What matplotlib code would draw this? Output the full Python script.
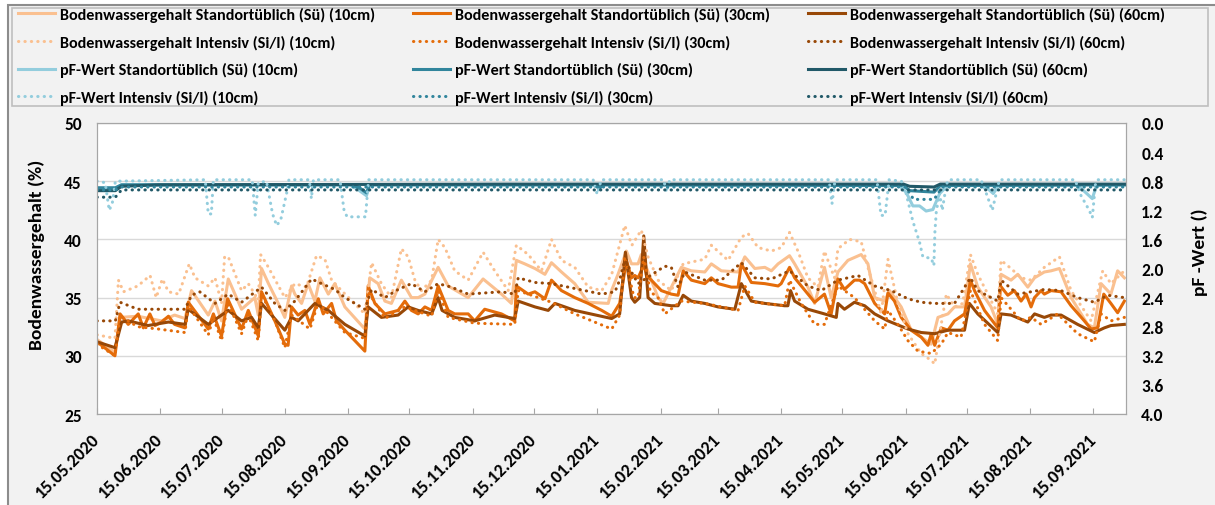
import numpy as np
import pandas as pd
import matplotlib
matplotlib.use('Agg')
import matplotlib.pyplot as plt
from matplotlib import font_manager
from matplotlib.patches import Rectangle

# === Daten: (Tage seit 15.05.2020, Wert) ===
start = pd.Timestamp('2020-05-15')

# Bodenwassergehalt (%) - Standortüblich (Sü)
sue10 = [(0, 31.4), (8.8, 30.3), (11.3, 33.3), (20, 33.4), (31.6, 33.0), (38, 33.5), (43.1, 33.2), (46.3, 35.6),
         (54.5, 33.5), (57.8, 34.7), (61, 33.0), (64.3, 36.6), (70.8, 34.0), (77.3, 35.0), (79, 33.5), (80.6, 37.5),
         (84, 36.2), (88.8, 34.5), (92, 33.3), (95.3, 36.0), (96.9, 35.3), (100.2, 34.5), (103.4, 36.2), (106.7, 34.7),
         (109.2, 36.7), (113.3, 35.3), (116.5, 36.2), (121.4, 34.2), (131.2, 32.3), (133.6, 36.7), (137.7, 36.2),
         (141, 34.7), (144.2, 34.5), (149.1, 36.5), (154, 35.0), (157.3, 35.0), (160.6, 35.3), (167.1, 37.6),
         (172, 36.0), (181.8, 35.0), (189.1, 36.6), (198.1, 35.3), (203, 34.5), (205.4, 38.2), (209.5, 37.9),
         (214.5, 37.5), (219.4, 37.0), (222.6, 38.0), (227.5, 37.2), (234, 36.2), (240.6, 34.6), (250.4, 34.5),
         (252, 35.6), (255.2, 37.0), (259.3, 39.0), (261.8, 37.9), (265, 37.9), (266.6, 38.7), (271.5, 36.5),
         (274.8, 35.0), (277.3, 34.5), (286.2, 37.6), (291.1, 37.3), (297.7, 37.2), (300.9, 37.9), (305.8, 37.3),
         (314, 37.2), (317.3, 38.5), (322.2, 37.5), (327.1, 37.6), (330.3, 37.3), (333.6, 37.9), (339.2, 38.6),
         (341.7, 37.9), (348.2, 35.9), (351.5, 34.5), (356.3, 37.6), (359.6, 35.0), (362.9, 37.2), (367.8, 38.2),
         (374.3, 38.7), (377.6, 37.9), (380.9, 35.0), (385.8, 34.7), (388.2, 35.6), (393.9, 34.2), (398.8, 32.2),
         (403.7, 31.6), (408.6, 31.0), (411.9, 33.3), (416.8, 33.6), (420, 34.2), (424.9, 34.2), (427.8, 37.9),
         (431.4, 35.9), (437.9, 34.2), (441.2, 32.7), (442.8, 37.0), (447.7, 36.5), (451, 37.0), (455.9, 35.9),
         (459.2, 36.7), (464, 37.2), (467.3, 37.3), (471.4, 37.5), (477.1, 35.0), (485.2, 32.7), (488.5, 32.4),
         (491.8, 36.2), (496.6, 35.3), (499.9, 37.3), (503.2, 36.7)]
sue30 = [(0, 31.2), (8.8, 30.0), (11.3, 33.6), (15.3, 32.7), (20.2, 33.6), (22.7, 32.4), (25.9, 33.6), (28.4, 32.6),
         (31.6, 32.9), (35, 33.4), (38, 32.7), (43.1, 32.4), (44.7, 34.6), (54.5, 32.3), (57, 33.6), (61, 31.7),
         (64, 34.9), (70.8, 32.3), (74.1, 33.9), (79, 31.7), (80.6, 35.5), (87.1, 33.0), (92, 31.0), (93.6, 30.9),
         (95.3, 34.2), (98.5, 33.5), (101.8, 33.9), (104.3, 32.7), (108.4, 34.9), (110.8, 33.6), (114.9, 34.5),
         (117.3, 33.0), (121.4, 32.2), (131.2, 30.4), (132.8, 36.0), (136.1, 34.5), (141, 33.6), (147.5, 33.9),
         (150.8, 34.7), (154, 33.9), (157.3, 33.6), (160.6, 34.2), (163.9, 33.9), (167.1, 36.0), (172, 33.9),
         (175.2, 33.6), (181.8, 33.6), (185, 33.0), (189.9, 34.0), (198.1, 33.6), (201.4, 33.3), (204.6, 33.0),
         (205.4, 36.0), (207.9, 35.7), (211.2, 35.3), (214.5, 35.5), (219.4, 34.9), (222.6, 36.5), (227.5, 35.6),
         (234, 35.0), (240.6, 34.5), (247.2, 33.9), (252.1, 33.4), (256, 34.5), (259.3, 38.2), (261.8, 36.7),
         (263.4, 36.9), (265, 36.7), (266.6, 37.3), (267.8, 38.0), (269.1, 36.9), (271.5, 36.5), (276.4, 35.6),
         (281.3, 35.3), (284.6, 35.2), (287.1, 37.3), (291.1, 36.5), (297.7, 36.2), (300.9, 36.7), (304.2, 36.2),
         (310.7, 35.9), (314, 35.9), (315.6, 37.9), (320.5, 36.3), (327.1, 36.2), (333.6, 36.0), (335.1, 36.2),
         (339.2, 37.6), (341.7, 36.7), (348.2, 35.3), (351.5, 34.6), (356.3, 35.3), (359.6, 33.6), (362.9, 36.6),
         (366.1, 35.7), (371, 36.5), (373.5, 36.5), (376, 36.2), (380.9, 34.5), (385.8, 33.6), (387.4, 35.4),
         (390.6, 34.7), (393.9, 33.3), (398.8, 32.2), (403.7, 31.6), (407, 30.9), (408.6, 31.9), (410.3, 30.9),
         (413.5, 32.4), (416.8, 32.2), (420, 33.0), (424.9, 33.6), (426.5, 35.0), (427.8, 36.5), (429.8, 35.6),
         (434.7, 33.9), (441.2, 32.4), (442.5, 36.0), (446.1, 35.2), (449.3, 35.6), (452.6, 34.7), (455.1, 35.3),
         (457.5, 34.2), (459.2, 35.0), (462.4, 35.6), (464, 35.3), (467.3, 35.6), (472.2, 35.5), (477.1, 34.3),
         (483.6, 33.0), (486.9, 32.3), (490.1, 32.4), (493.1, 35.3), (496.6, 34.5), (499.9, 33.7), (503.2, 34.7)]
sue60 = [(0, 31.2), (8.8, 30.7), (12.1, 32.9), (15.3, 33.0), (25, 32.6), (35, 32.9), (43.1, 32.7), (44.7, 34.0),
         (54.5, 32.7), (64.3, 33.9), (70.8, 33.0), (75.7, 33.3), (79, 32.4), (80.6, 34.5), (84, 33.8), (92, 32.2),
         (95.3, 33.3), (98.5, 33.0), (106.7, 34.5), (113.3, 33.9), (121.4, 32.7), (131.2, 31.7), (132.8, 34.2),
         (139.3, 33.3), (147.5, 33.5), (152.4, 34.2), (157.3, 33.9), (163.9, 33.6), (167.1, 35.0), (169, 33.9),
         (175.2, 33.3), (185, 33.0), (194.8, 33.5), (204.6, 33.2), (206.3, 34.7), (214.5, 34.2), (221, 33.9),
         (224.3, 34.5), (234, 33.9), (252.1, 33.2), (256, 33.6), (258.8, 38.9), (261.8, 35.0), (263.4, 34.6),
         (265.8, 35.0), (267.8, 40.3), (269.9, 35.0), (273.2, 34.5), (281.3, 34.3), (284.6, 34.3), (287.1, 35.2),
         (291.1, 34.7), (297.7, 34.5), (304.2, 34.2), (312.4, 34.0), (315.6, 36.2), (320.5, 34.7), (327.1, 34.5),
         (336.8, 34.3), (338.4, 34.3), (339.7, 35.6), (341.7, 34.7), (348.2, 34.0), (356.3, 33.6), (362.1, 33.3),
         (362.9, 34.5), (366.1, 34.0), (371, 34.6), (376, 34.3), (380.9, 33.6), (387.4, 33.0), (397.2, 32.3),
         (403.7, 32.0), (410.3, 31.9), (416.8, 32.2), (424.9, 32.2), (427.3, 34.5), (431.4, 33.6), (441.2, 32.0),
         (442.8, 33.6), (447.7, 33.5), (455.9, 32.9), (459.2, 33.6), (464, 33.3), (467.3, 33.5), (472.2, 33.5),
         (480.3, 32.7), (488.5, 32.0), (493.4, 32.4), (496.6, 32.6), (503.2, 32.7)]

# Bodenwassergehalt (%) - Intensiv (Si/I)
int10 = [(0, 31.8), (8.8, 31.5), (10.5, 36.5), (13, 35.5), (20, 36.0), (26, 36.9), (29, 35.0), (32, 36.6), (35, 35.5),
         (40, 35.3), (45.2, 37.9), (48, 36.7), (54.5, 36.0), (57.8, 36.7), (61, 34.5), (62.5, 38.5), (64.3, 38.5),
         (70.8, 35.6), (74.1, 36.2), (79, 34.8), (80.1, 38.7), (83, 37.9), (92, 35.0), (96.9, 36.2), (102.6, 35.9),
         (107.5, 38.6), (111.6, 38.3), (114.9, 36.5), (119.8, 35.6), (131.2, 33.6), (134.5, 38.0), (139.3, 36.2),
         (144.2, 35.0), (149.1, 39.2), (152.4, 38.5), (155.7, 36.5), (158.9, 35.6), (163.9, 36.5), (167.1, 40.0),
         (170.4, 39.3), (175.2, 37.3), (181.8, 36.5), (189.1, 38.9), (194.8, 37.3), (201.4, 35.6), (205.4, 39.5),
         (211.2, 38.7), (217.7, 37.3), (222.6, 40.0), (227.5, 38.2), (234, 37.6), (240.6, 35.9), (247.2, 35.6),
         (252.1, 37.0), (258.5, 41.2), (262, 39.5), (266.6, 40.8), (269.9, 38.5), (274.8, 36.5), (281.3, 35.6),
         (287.1, 37.9), (297.7, 38.3), (300.9, 39.5), (309.1, 38.2), (315.6, 40.2), (318.9, 40.5), (323.8, 39.3),
         (330.3, 39.0), (335.2, 39.3), (339.2, 40.6), (343.3, 39.0), (348.2, 36.7), (353.1, 35.9), (356.3, 39.0),
         (361.2, 36.7), (362.9, 39.2), (368.6, 40.0), (374.3, 39.8), (377.6, 37.6), (380.9, 35.6), (384.1, 33.6),
         (387.4, 38.3), (392.3, 34.5), (397.2, 31.9), (403.7, 30.2), (408.6, 29.6), (410.3, 29.3), (413.5, 32.7),
         (416, 35.3), (420, 34.2), (424, 34.5), (427.8, 38.7), (431.4, 37.0), (441.2, 33.6), (442.8, 38.2),
         (447.7, 37.5), (452.6, 36.7), (457.5, 36.5), (464, 37.6), (471.4, 38.5), (477.1, 35.6), (486.9, 33.0),
         (492.6, 37.3), (496.6, 36.2), (503.2, 37.3)]
int30 = [(0, 31.0), (8.8, 30.0), (11.3, 33.4), (20, 32.5), (30, 32.3), (43.1, 32.0), (44.7, 34.3), (54.5, 31.8),
         (57, 33.3), (61, 31.3), (64, 34.6), (70.8, 31.9), (74.1, 33.5), (79, 31.3), (80.6, 35.3), (87.1, 33.0),
         (92, 30.7), (95.3, 33.5), (104.3, 32.3), (108.4, 34.6), (121.4, 32.0), (131.2, 31.5), (132.8, 35.5),
         (141, 33.2), (150.8, 34.2), (163.9, 33.4), (167.1, 35.6), (172, 33.3), (185, 32.8), (204.6, 32.7),
         (206.3, 35.6), (222.6, 34.6), (234, 33.6), (252.1, 32.3), (256, 33.5), (258.5, 38.5), (263, 35.0),
         (265, 35.0), (267.8, 38.5), (271, 35.5), (274.8, 35.0), (278.1, 33.6), (286.2, 34.7), (297.7, 34.5),
         (314, 33.9), (317.3, 36.0), (322.2, 34.6), (336.8, 34.3), (339.2, 36.5), (344.9, 34.5), (351.5, 32.7),
         (356.3, 32.7), (362.9, 36.0), (371, 35.0), (380.9, 33.0), (385.8, 32.3), (387.4, 33.9), (392.3, 32.7),
         (397.2, 31.3), (402.1, 30.4), (408.6, 30.2), (413.5, 31.0), (416.8, 32.0), (423.2, 31.6), (427.8, 35.6),
         (434.7, 32.7), (441.2, 31.3), (442.8, 35.0), (452.6, 33.0), (457.5, 33.3), (462.4, 32.7), (470.5, 33.6),
         (480.3, 31.9), (488.5, 31.2), (491.8, 33.6), (496.6, 33.0), (503.2, 33.3)]
int60 = [(0, 33.0), (9, 33.0), (11.3, 34.6), (20, 34.0), (43.1, 34.0), (46.3, 35.2), (50.3, 35.5), (57.8, 34.5),
         (64.3, 35.3), (70.8, 34.6), (80.6, 35.9), (87.1, 34.5), (92, 33.9), (96.9, 34.7), (105.1, 36.6), (110, 36.2),
         (116.5, 35.7), (121.4, 35.0), (131.2, 34.0), (134.5, 35.7), (141, 35.0), (147.5, 35.7), (154, 36.2),
         (160.6, 35.5), (167.1, 36.2), (173.6, 35.9), (181.8, 35.3), (198.1, 35.5), (204.6, 35.3), (206.3, 36.7),
         (214.5, 36.3), (222.6, 36.2), (230.8, 35.9), (247.2, 35.3), (253.7, 35.5), (256, 36.5), (258.5, 38.2),
         (265, 36.2), (278.1, 37.7), (281.3, 37.6), (284.6, 35.9), (287.9, 37.2), (297.7, 36.5), (305.8, 36.5),
         (315.6, 38.0), (322.2, 36.7), (330.3, 36.6), (339.2, 37.3), (348.2, 36.0), (354.7, 35.6), (362.9, 36.5),
         (372.7, 36.9), (380.9, 36.0), (389, 35.6), (397.2, 34.9), (403.7, 34.6), (410.3, 34.5), (420, 34.5),
         (427.8, 36.7), (431.4, 35.6), (441.2, 34.7), (442.8, 36.5), (451, 35.3), (464, 35.7), (472.2, 35.6),
         (480.3, 35.0), (488.5, 34.6), (495, 35.2), (503.2, 35.0)]

# pF-Wert
pf_sue10 = [(0, 0.90), (9, 0.90), (12, 0.85), (124, 0.85), (128, 0.92), (132, 1.00), (133.5, 0.85), (393, 0.85),
            (394.5, 0.91), (396.3, 0.95), (399.6, 1.14), (402.9, 1.14), (406.1, 1.21), (409.4, 1.19), (412.7, 0.97),
            (416, 0.88), (418, 0.85), (434, 0.85), (437, 0.92), (439, 0.97), (441.5, 0.86), (480, 0.85),
            (484, 0.95), (487.5, 1.04), (489.5, 0.86), (504, 0.85)]
pf_sue30 = [(0, 0.89), (9, 0.89), (12, 0.85), (125, 0.85), (129, 0.90), (132, 0.96), (133.5, 0.85), (245, 0.85),
            (246, 0.90), (248, 0.85), (395, 0.86), (398, 0.93), (410, 0.95), (413, 0.86), (504, 0.85)]
pf_sue60 = [(0, 0.93), (9, 0.93), (12, 0.87), (30, 0.85), (200, 0.84), (395, 0.84), (398, 0.87), (410, 0.88),
            (413, 0.84), (504, 0.84)]
pf_int10 = [(0, 0.80), (4, 0.82), (6, 1.2), (7.5, 1.1), (9, 0.80), (53, 0.78), (54.5, 1.25), (56, 1.25), (57, 0.78),
            (76, 0.78), (77.5, 1.27), (79, 0.82), (83, 0.80), (86, 1.25), (88, 1.41), (90, 1.33), (93, 0.95),
            (94, 0.78), (104, 0.78), (105, 1.04), (106, 0.78), (119, 0.78), (121, 1.2), (122.5, 1.29),
            (131.5, 1.29), (133, 0.78), (243, 0.78), (245, 0.98), (247, 0.78), (277.5, 0.78), (279, 0.95),
            (280.5, 0.78), (358.5, 0.78), (360, 1.11), (361.5, 0.78), (382, 0.78), (384, 1.27), (386, 1.27),
            (388, 0.78), (394, 0.80), (396.3, 0.97), (399.6, 1.35), (402.9, 1.64), (404.5, 1.84), (408.6, 1.86),
            (409.9, 1.96), (410.4, 1.5), (411.1, 1.21), (412.7, 0.97), (414, 1.2), (416, 0.85), (417, 0.78),
            (433, 0.78), (436, 1.0), (438.5, 1.2), (441, 0.9), (442, 0.78), (479, 0.78), (482, 1.0), (486, 1.2),
            (487.5, 1.3), (489, 0.85), (490, 0.78), (504, 0.78)]
pf_int30 = [(0, 0.92), (9, 0.92), (12, 0.88), (396, 0.88), (400, 1.05), (410, 1.05), (414, 0.88), (504, 0.88)]
pf_int60 = [(0, 1.02), (9, 1.02), (12, 0.92), (504, 0.92)]

labels_bw = ['Bodenwassergehalt Standortüblich (Sü) (10cm)', 'Bodenwassergehalt Standortüblich (Sü) (30cm)',
             'Bodenwassergehalt Standortüblich (Sü) (60cm)', 'Bodenwassergehalt Intensiv (Si/I) (10cm)',
             'Bodenwassergehalt Intensiv (Si/I) (30cm)', 'Bodenwassergehalt Intensiv (Si/I) (60cm)']
labels_pf = ['pF-Wert Standortüblich (Sü) (10cm)', 'pF-Wert Standortüblich (Sü) (30cm)',
             'pF-Wert Standortüblich (Sü) (60cm)', 'pF-Wert Intensiv (Si/I) (10cm)',
             'pF-Wert Intensiv (Si/I) (30cm)', 'pF-Wert Intensiv (Si/I) (60cm)']

orange = ['#FAC090', '#E46C0A', '#984807']
blue = ['#93CDDD', '#31859C', '#215968']

# === Schrift ===
available = {f.name for f in font_manager.fontManager.ttflist}
font = next(f for f in ['Carlito', 'Liberation Sans Narrow', 'Open Sans', 'DejaVu Sans'] if f in available)
scale = {'Carlito': 1.0, 'Liberation Sans Narrow': 0.97, 'Open Sans': 0.8, 'DejaVu Sans': 0.8}[font]
plt.rcParams['font.family'] = [font, 'DejaVu Sans']
plt.rcParams['font.weight'] = 'bold'


def to_xy(points):
    tage, werte = np.array(points, dtype=float).T
    return start + pd.to_timedelta(tage, unit='D'), werte


W, H = 1215, 506
fig = plt.figure(figsize=(W / 100, H / 100), dpi=100, facecolor='white')
fig.patches.append(Rectangle((8 / W, -0.1), 1.1, 1.1 - 6 / H, transform=fig.transFigure,
                             facecolor='#F2F2F2', edgecolor='#8C8C8C', lw=1.5, zorder=-10))
# Rahmen der Legende
fig.patches.append(Rectangle((12 / W, 1 - 107 / H), 1196 / W, 98 / H, transform=fig.transFigure,
                             facecolor='#F2F2F2', edgecolor='#BFBFBF', lw=1.2, zorder=-5))

ax = fig.add_axes([97 / W, 1 - 415 / H, 1029 / W, 291 / H])
ax.set_facecolor('white')
ax2 = ax.twinx()

dot = (0, (0.1, 2.0))
handles = []
for pts, col, lab in zip([sue10, sue30, sue60], orange, labels_bw[:3]):
    x, y = to_xy(pts)
    handles.append(ax.plot(x, y, color=col, lw=2.2, label=lab)[0])
for pts, col, lab in zip([int10, int30, int60], orange, labels_bw[3:]):
    x, y = to_xy(pts)
    handles.append(ax.plot(x, y, color=col, lw=2.2, ls=dot, dash_capstyle='round', label=lab)[0])
for pts, col, lab in zip([pf_sue10, pf_sue30, pf_sue60], blue, labels_pf[:3]):
    x, y = to_xy(pts)
    handles.append(ax2.plot(x, y, color=col, lw=2.2, label=lab)[0])
for pts, col, lab in zip([pf_int10, pf_int30, pf_int60], blue, labels_pf[3:]):
    x, y = to_xy(pts)
    handles.append(ax2.plot(x, y, color=col, lw=2.2, ls=dot, dash_capstyle='round', label=lab)[0])

# Achsen
ax.set_xlim(start, start + pd.Timedelta(days=504))
ax.set_ylim(25, 50)
ax.set_yticks(np.arange(25, 51, 5))
ax2.set_ylim(4, 0)
ax2.set_yticks(np.arange(0, 4.01, 0.4))
ax2.set_yticklabels([f'{v:.1f}' for v in np.arange(0, 4.01, 0.4)])

ticks = pd.date_range('2020-05-15', '2021-09-15', freq=pd.DateOffset(months=1))
ax.set_xticks(ticks)
ax.set_xticklabels([t.strftime('%d.%m.%Y') for t in ticks], rotation=45, ha='right', va='center',
                   rotation_mode='anchor')
ax.tick_params(axis='x', direction='in', length=4, color='#A6A6A6', pad=16, labelsize=13 * scale)
ax.tick_params(axis='y', length=0, pad=11, labelsize=12.5 * scale)
ax2.tick_params(axis='y', length=0, pad=11, labelsize=12.5 * scale)

ax.yaxis.grid(True, color='#D9D9D9', lw=1)
ax.set_axisbelow(True)
for a in (ax, ax2):
    for s in a.spines.values():
        s.set_color('#A6A6A6')

fig.text(37 / W, 1 - 255 / H, 'Bodenwassergehalt (%)', rotation=90, ha='center', va='center',
         fontsize=14 * scale)
fig.text(1200 / W, 1 - 252 / H, 'pF -Wert ()', rotation=90, ha='center', va='center', fontsize=14 * scale)

# Legende: eine Spalte je Tiefe (10 / 30 / 60 cm), Zeilen wie im Original
for k, x0 in enumerate([18, 413, 808]):
    cols = [handles[k], handles[k + 3], handles[k + 6], handles[k + 9]]
    fig.legend(cols, [h.get_label() for h in cols], loc='upper left', bbox_to_anchor=(x0 / W, 1 - 8 / H),
               frameon=False, handlelength=2.3, handletextpad=0.3, labelspacing=0.78, borderpad=0,
               borderaxespad=0, prop={'size': 11.6 * scale, 'weight': 'bold'})

fig.savefig('out.png', dpi=100, facecolor=fig.get_facecolor())
